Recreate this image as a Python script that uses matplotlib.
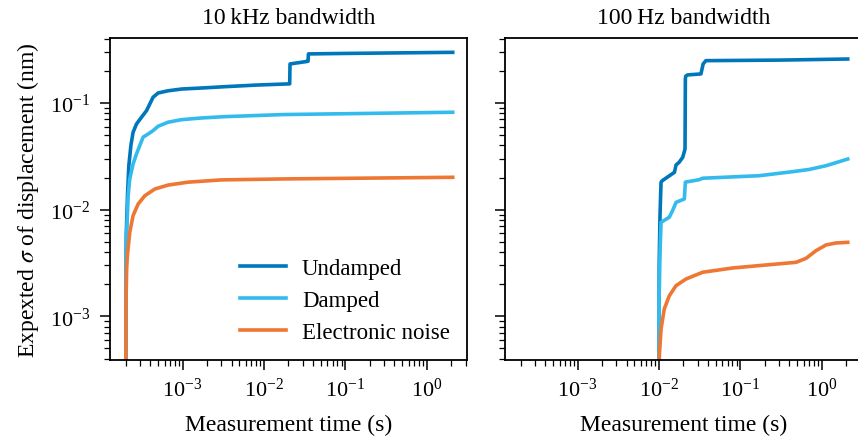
import numpy as np
import matplotlib.pyplot as plt

plt.rcParams['font.family'] = ['Liberation Serif', 'DejaVu Serif']
plt.rcParams['mathtext.fontset'] = 'stix'

# colours (Paul Tol vibrant)
c_und = '#0077BB'
c_dmp = '#33BBEE'
c_ele = '#EE7733'

# 10 kHz bandwidth panel
t_und_10k = [2.0e-4, 2.005e-4, 2.03e-4, 2.10e-4, 2.18e-4, 2.31e-4, 2.46e-4, 2.71e-4, 3.12e-4, 3.60e-4,
             3.95e-4, 4.33e-4, 5.0e-4, 6.64e-4, 9.69e-4, 1.71e-3, 3.3e-3, 8e-3, 0.0207,
             0.0209, 0.0328, 0.0348, 0.0352, 0.1, 2.09]
s_und_10k = [1e-6, 0.002, 0.006, 0.0135, 0.0258, 0.0398, 0.0531, 0.0635, 0.0734, 0.0847,
             0.0979, 0.113, 0.124, 0.130, 0.135, 0.138, 0.142, 0.147, 0.151,
             0.232, 0.244, 0.246, 0.288, 0.291, 0.298]
t_dmp_10k = [2.0e-4, 2.005e-4, 2.03e-4, 2.14e-4, 2.24e-4, 2.46e-4, 2.71e-4, 2.97e-4, 3.27e-4, 3.77e-4,
             4.33e-4, 5.0e-4, 6.64e-4, 9.69e-4, 1.71e-3, 3.3e-3, 0.0171, 2.09]
s_dmp_10k = [1e-6, 0.002, 0.005, 0.0135, 0.0194, 0.0268, 0.0333, 0.0398, 0.0478, 0.0512,
             0.0550, 0.0605, 0.0660, 0.0697, 0.0723, 0.0744, 0.0778, 0.0818]
t_ele_10k = [2.0e-4, 2.002e-4, 2.01e-4, 2.05e-4, 2.10e-4, 2.24e-4, 2.46e-4, 2.84e-4, 3.43e-4, 4.55e-4,
             6.64e-4, 1.17e-3, 3.0e-3, 0.017, 2.09]
s_ele_10k = [1e-6, 0.0004, 0.00125, 0.0028, 0.0038, 0.00614, 0.0088, 0.0113, 0.0135, 0.0156,
             0.0170, 0.0181, 0.0190, 0.0194, 0.0201]

# 100 Hz bandwidth panel
t_und_100 = [0.0100, 0.01005, 0.0103, 0.0106, 0.0110, 0.0155, 0.0162, 0.0177, 0.0196, 0.0209, 0.0211,
             0.0213, 0.0224, 0.0328, 0.0349, 0.0377, 0.3, 2.09]
s_und_100 = [1e-6, 0.003, 0.009, 0.0181, 0.0187, 0.0224, 0.0262, 0.0278, 0.031, 0.037, 0.168,
             0.178, 0.183, 0.187, 0.232, 0.249, 0.252, 0.258]
t_dmp_100 = [0.0100, 0.01005, 0.0103, 0.0106, 0.0134, 0.0147, 0.0162, 0.0205, 0.0211, 0.0313, 0.0344,
             0.171, 0.44, 0.7, 1.13, 2.09]
s_dmp_100 = [1e-6, 0.0015, 0.004, 0.0076, 0.0085, 0.0098, 0.0117, 0.0126, 0.0181, 0.0191, 0.0197,
             0.0208, 0.0227, 0.0238, 0.0258, 0.0298]
t_ele_100 = [0.0100, 0.01005, 0.0101, 0.0106, 0.0116, 0.0134, 0.0162, 0.0215, 0.0344, 0.0804, 0.207,
             0.484, 0.643, 0.853, 1.13, 1.50, 2.09]
s_ele_100 = [1e-6, 0.0003, 0.00043, 0.00076, 0.00117, 0.00156, 0.00194, 0.00224, 0.00259, 0.00284, 0.00303,
             0.00321, 0.0035, 0.00413, 0.00467, 0.00487, 0.00494]

titles = ['10\u2009kHz bandwidth', '100\u2009Hz bandwidth']
labels = ['Undamped', 'Damped', 'Electronic noise']

fig = plt.figure(figsize=(8.58, 4.39), dpi=100)
W, H = 858, 439
ax1 = fig.add_axes([110 / W, 1 - 361 / H, 357 / W, 322 / H])
ax2 = fig.add_axes([505 / W, 1 - 361 / H, 357 / W, 322 / H], sharex=ax1, sharey=ax1)

panels = [
    (ax1, [(t_und_10k, s_und_10k), (t_dmp_10k, s_dmp_10k), (t_ele_10k, s_ele_10k)]),
    (ax2, [(t_und_100, s_und_100), (t_dmp_100, s_dmp_100), (t_ele_100, s_ele_100)]),
]
for (ax, series), title in zip(panels, titles):
    for (t, s), c, lab in zip(series, [c_und, c_dmp, c_ele], labels):
        ax.plot(t, s, color=c, lw=2.6, label=lab, solid_joinstyle='round')
    ax.set_xscale('log')
    ax.set_yscale('log')
    ax.set_title(title, fontsize=17, pad=11)
    ax.set_xlabel('Measurement time (s)', fontsize=17, labelpad=9)
    ax.tick_params(which='major', length=7, width=1.1, labelsize=16, direction='out')
    ax.tick_params(axis='x', which='major', pad=6)
    ax.tick_params(axis='y', which='major', pad=7)
    ax.tick_params(which='minor', length=4, width=0.9, direction='out')
    for sp in ax.spines.values():
        sp.set_linewidth(1.3)

ax1.set_xlim(1.28e-4, 3.13)
ax1.set_ylim(3.9e-4, 0.406)
ax1.set_ylabel('Expexted $\\sigma$ of displacement (nm)', fontsize=17, labelpad=7)
ax2.tick_params(labelleft=False)
ax1.legend(loc='lower right', frameon=False, fontsize=16.5, handlelength=2.0,
           handletextpad=0.7, labelspacing=0.48, borderaxespad=0.35)

fig.savefig('out.png', dpi=100)
